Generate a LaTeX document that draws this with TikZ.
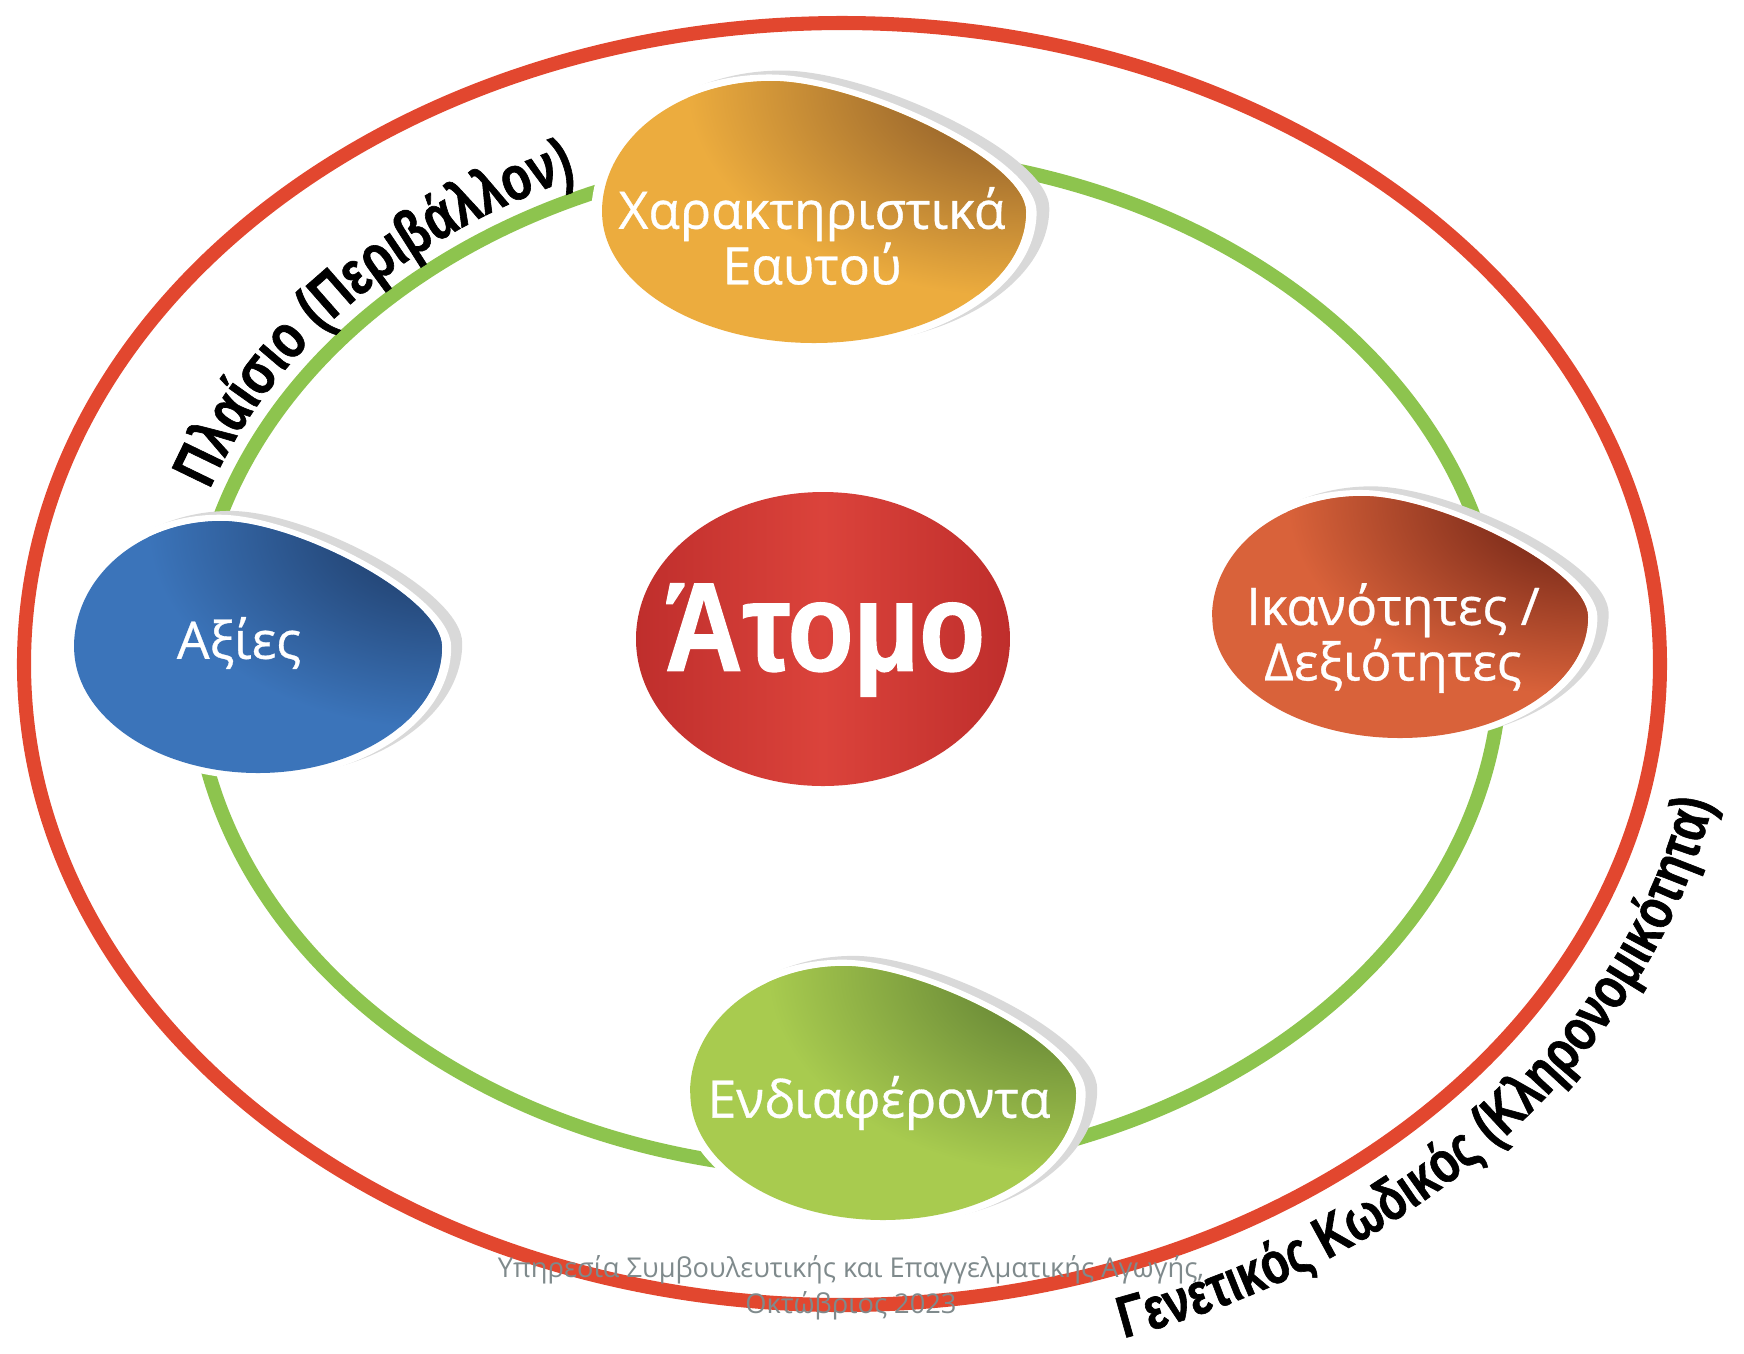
\documentclass[tikz,border=0pt]{standalone}
\usepackage{fontspec}
\setmainfont{Open Sans}
\newfontfamily\eggfont[FakeBold=0.6]{Open Sans}
\newfontfamily\atomfont[FakeStretch=0.85, FakeBold=1]{Liberation Sans}
\newfontfamily\ringfont[FakeStretch=0.77, FakeBold=1]{Liberation Sans}
\usetikzlibrary{decorations.text}

\definecolor{ringred}{HTML}{E2472F}
\definecolor{ringgreen}{HTML}{8DC44E}
\definecolor{eggorange}{HTML}{ECAC3E}
\definecolor{eggorangedk}{HTML}{7E4F26}
\definecolor{eggblue}{HTML}{3B74BA}
\definecolor{eggbluedk}{HTML}{1B345C}
\definecolor{eggrust}{HTML}{D9623A}
\definecolor{eggrustdk}{HTML}{5E1A10}
\definecolor{egglime}{HTML}{A8CB4F}
\definecolor{egglimedk}{HTML}{55742F}
\definecolor{atomdk}{HTML}{BF2E2C}
\definecolor{atomlt}{HTML}{DB433B}
\definecolor{footgray}{HTML}{7F8A8C}

\newcommand{\contextfont}{\ringfont\bfseries\fontsize{17.8}{19}\selectfont}
\newcommand{\genefont}{\ringfont\bfseries\fontsize{16.8}{18}\selectfont}
\newcommand{\eggpath}{(-1,0) .. controls (-1,0.55) and (-0.65,1) .. (-0.2,1) .. controls (0.2,1) and (1,0.4) .. (1,0) .. controls (1,-0.55) and (0.55,-1) .. (0,-1) .. controls (-0.55,-1) and (-1,-0.55) .. cycle}
% centre x, centre y, half width, half height, colour, dark colour
\newcommand{\drawegg}[6]{%
  \begin{scope}[shift={(#1,#2)}, xscale=#3, yscale=#4]
    \fill[gray!30, shift={(0.06,0.03)}, scale=1.05] \eggpath;
    \fill[white, scale=1.05] \eggpath;
    \fill[#5] \eggpath;
    \begin{scope}
      \clip \eggpath;
      \shade[inner color=#6, outer color=#5] (1,0.95) circle (1.6);
    \end{scope}
  \end{scope}}

\tikzset{
  ring/.style={line width=4pt},
  eggtext/.style={text=white, align=center, font=\eggfont\fontsize{14.7}{15.8}\selectfont},
  curvetext/.style 2 args={decorate, decoration={text along path, text={|#1|#2}}}
}

\begin{document}
\begin{tikzpicture}[x=0.01cm, y=0.01cm]
\useasboundingbox (0,0) rectangle (1744,-1353);

% rings
\draw[ring, ringred] (842,-664) ellipse [x radius=818, y radius=641];
\draw[ring, ringgreen] (847,-662) ellipse [x radius=654, y radius=509];

% eggs
\drawegg{814}{-212}{212}{131}{eggorange}{eggorangedk}
\drawegg{258}{-647}{184}{126}{eggblue}{eggbluedk}
\drawegg{1400}{-617}{188}{121}{eggrust}{eggrustdk}
\drawegg{883}{-1093}{193}{127}{egglime}{egglimedk}
\shade[left color=atomdk, right color=atomdk, middle color=atomlt] (823,-639) ellipse [x radius=187, y radius=147];

\node[eggtext] (self) at (812,-236) {Χαρακτηριστικά\\Εαυτού};
\node[eggtext] (values) at (239,-643) {Αξίες};
\node[eggtext] (skills) at (1393,-638) {Ικανότητες /\\Δεξιότητες};
\node[eggtext] (interests) at (879,-1103) {Ενδιαφέροντα};
\node[text=white, font=\atomfont\bfseries\fontsize{36}{40}\selectfont] (atomo) at (825,-640) {Άτομο};

% labels on the rings
\path[curvetext={\contextfont}{Πλαίσιο (Περιβάλλον)}] (847,-662) ++(161:674 and 529) arc[start angle=161, end angle=100, x radius=674, y radius=529];
\path[curvetext={\genefont}{Γενετικός Κωδικός (Κληρονομικότητα)}] (842,-664) ++(-71.5:888 and 711) arc[start angle=-71.5, end angle=5, x radius=888, y radius=711];

\node[text=footgray, align=center, font=\fontsize{7.75}{10.2}\selectfont] (credit) at (851,-1288) {Υπηρεσία Συμβουλευτικής και Επαγγελματικής Αγωγής,\\Οκτώβριος 2023};
\end{tikzpicture}
\end{document}
